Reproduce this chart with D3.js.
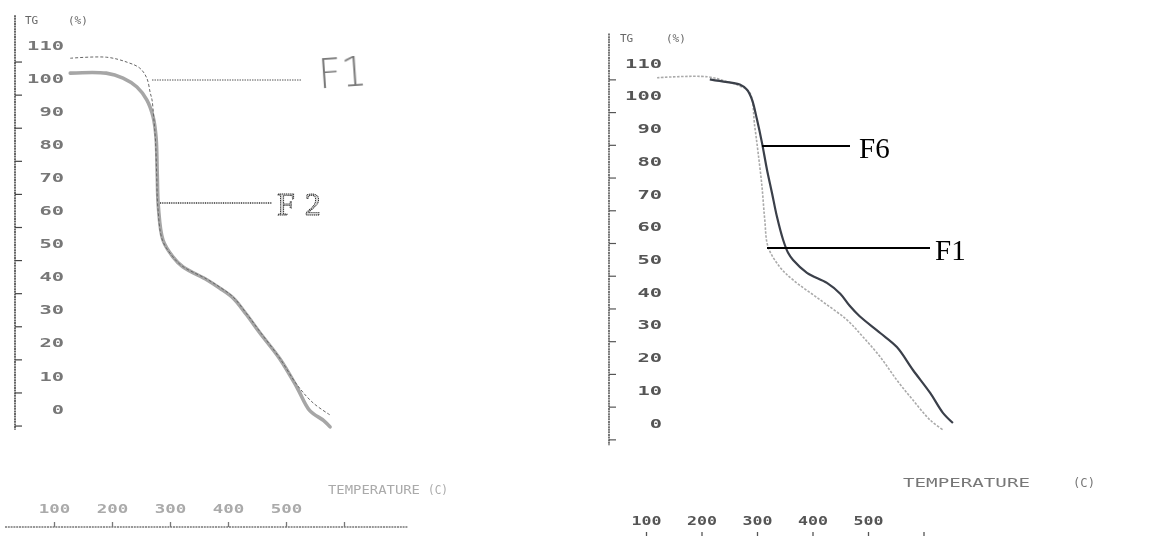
<!DOCTYPE html>
<html>
<head>
<meta charset="utf-8">
<script src="https://cdn.jsdelivr.net/npm/d3@7"></script>
<style>
  html, body { margin: 0; padding: 0; background: #fff; }
  svg { display: block; }
</style>
</head>
<body>
<svg id="chart" width="1157" height="536"></svg>
<script>
// Temperature axis ticks (°C) and TG (%) axis labels / minor ticks
const tempTicks = [100, 200, 300, 400, 500, 600];
const tgLabels = [0, 10, 20, 30, 40, 50, 60, 70, 80, 90, 100, 110];
const tgMinorTicks = [-5, 5, 15, 25, 35, 45, 55, 65, 75, 85, 95, 105];

// Left thermogram: [temperature °C, TG %]
const leftF1 = [
  [128, 106], [191, 106.3], [226, 104.8], [248, 103], [260, 100], [266, 95.5],
  [269, 93.4], [272, 88], [275, 81], [277, 71], [279, 61], [287, 51],
  [304, 46.2], [321, 43.2], [363, 39.3], [386, 36.8], [409, 33.8], [432, 28.8],
  [454, 23.6], [489, 15.4], [519, 7.3], [547, 1.8], [576, -1.8]
];
const leftF2 = [
  [128, 101.5], [190, 101.5], [219, 100], [243, 97.3], [260, 93.4], [271, 88.2],
  [276, 82], [278, 71], [280, 61], [288, 51], [305, 46], [322, 43],
  [364, 39], [386, 36.5], [409, 33.5], [432, 28.5], [455, 23], [490, 15],
  [519, 6.5], [541, -0.5], [565, -3.5], [576, -5.4]
];

// Right thermogram: [temperature °C, TG %]
const rightF1 = [
  [120, 105.5], [210, 105.8], [246, 104.3], [269, 103], [287, 100.9], [296, 90.5],
  [302, 82.6], [309, 72.2], [314, 62.1], [320, 53.8], [341, 47.7], [365, 43.7],
  [414, 37.6], [462, 31.5], [491, 26.3], [522, 20.2], [552, 13.1], [581, 7],
  [612, 0.9], [635, -2.1]
];
const rightF6 = [
  [215, 105], [228, 104.6], [269, 103.4], [282, 101.8], [291, 98.8], [300, 92.7],
  [309, 85.6], [318, 77.4], [327, 70.3], [336, 63], [347, 56], [356, 52],
  [365, 49.8], [390, 45.9], [426, 42.8], [450, 39.5], [467, 35.8], [485, 32.6],
  [522, 27.5], [552, 23.2], [581, 16.2], [612, 9.2], [635, 3.1], [653, 0]
];

const svg = d3.select("#chart");
const MONO = "'DejaVu Sans Mono', 'Liberation Mono', monospace";
const SERIF = "'Liberation Serif', 'Times New Roman', serif";

// soft scan look for the printed parts
const defs = svg.append("defs");
defs.append("filter").attr("id", "soft")
  .append("feGaussianBlur").attr("stdDeviation", 0.55);

const line = (x, y) => d3.line()
  .x(d => x(d[0])).y(d => y(d[1]))
  .curve(d3.curveCatmullRom.alpha(0.5));

// wide printer-style digits
function printerText(sel, charW, color) {
  sel.attr("font-family", MONO).attr("font-size", 13).attr("font-weight", "bold")
    .attr("fill", color)
    .attr("lengthAdjust", "spacingAndGlyphs")
    .attr("textLength", function () {
      const n = this.textContent.length;
      return n ? n * charW : null;
    });
}

function panel(cfg) {
  const x = d3.scaleLinear().domain([100, 500]).range(cfg.xRange);
  const y = d3.scaleLinear().domain([0, 110]).range(cfg.yRange);
  const g = svg.append("g").attr("filter", "url(#soft)");

  // vertical TG axis line
  g.append("line")
    .attr("x1", cfg.axisX).attr("x2", cfg.axisX)
    .attr("y1", y(cfg.axisTop)).attr("y2", y(cfg.axisBottom))
    .attr("stroke", cfg.axisColor).attr("stroke-width", 1.6)
    .attr("stroke-dasharray", "2,0.6");

  // minor ticks on the TG axis
  const minor = g.append("g")
    .attr("transform", `translate(${cfg.axisX},0)`)
    .call(d3.axisRight(y).tickValues(tgMinorTicks).tickSize(7).tickFormat(""));
  minor.select(".domain").remove();
  minor.selectAll("line").attr("stroke", cfg.axisColor).attr("stroke-width", 1.2);

  // TG labels
  const lab = g.append("g")
    .attr("transform", `translate(${cfg.labelX},0)`)
    .call(d3.axisLeft(y).tickValues(tgLabels).tickSize(0).tickPadding(0));
  lab.select(".domain").remove();
  lab.selectAll("text").call(printerText, 12.3, cfg.labelColor);

  // TG (%) title
  g.append("text").attr("x", cfg.tgX).attr("y", cfg.tgY)
    .attr("font-family", MONO).attr("font-size", 11).attr("fill", "#666")
    .text("TG");
  g.append("text").attr("x", cfg.pctX).attr("y", cfg.tgY)
    .attr("font-family", MONO).attr("font-size", 11).attr("fill", "#666")
    .text("(%)");

  // temperature axis
  const bx = g.append("g")
    .attr("transform", `translate(0,${cfg.baseY})`)
    .call(d3.axisTop(x).tickValues(tempTicks).tickSize(5).tickPadding(cfg.tickPad)
      .tickFormat(d => d === 600 ? "" : d));
  bx.select(".domain").remove();
  bx.selectAll("line").attr("stroke", cfg.baseColor).attr("stroke-width", 1.3);
  bx.selectAll("text").call(printerText, cfg.xCharW, cfg.xLabelColor);
  g.append("line")
    .attr("x1", cfg.baseX[0]).attr("x2", cfg.baseX[1])
    .attr("y1", cfg.baseY).attr("y2", cfg.baseY)
    .attr("stroke", cfg.baseColor).attr("stroke-width", 1.6)
    .attr("stroke-dasharray", "2,0.8");

  // temperature title
  g.append("text").attr("x", cfg.tempX).attr("y", cfg.tempY)
    .attr("font-family", MONO).attr("font-size", 12).attr("fill", cfg.tempColor)
    .attr("textLength", cfg.tempLen[0]).attr("lengthAdjust", "spacingAndGlyphs")
    .text("TEMPERATURE");
  g.append("text").attr("x", cfg.cX).attr("y", cfg.tempY)
    .attr("font-family", MONO).attr("font-size", 12).attr("fill", cfg.tempColor)
    .attr("textLength", cfg.tempLen[1]).attr("lengthAdjust", "spacingAndGlyphs")
    .text("(C)");

  return { x, y, g };
}

// ---------------- left panel: F1 / F2 ----------------
const L = panel({
  xRange: [54, 286], yRange: [409, 45],
  axisX: 15, axisTop: 119, axisBottom: -6.3, axisColor: "#444",
  labelX: 64, labelColor: "#777",
  tgX: 25, pctX: 68, tgY: 24,
  baseY: 527, tickPad: 9, baseX: [5, 408], baseColor: "#777",
  xLabelColor: "#aaa", xCharW: 10.5,
  tempX: 328, tempY: 494, tempLen: [92, 20], cX: 428, tempColor: "#aaa"
});

L.g.append("path").datum(leftF2)
  .attr("d", line(L.x, L.y))
  .attr("fill", "none").attr("stroke", "#a6a6a6").attr("stroke-width", 3.6)
  .attr("stroke-linecap", "round");
L.g.append("path").datum(leftF1)
  .attr("d", line(L.x, L.y))
  .attr("fill", "none").attr("stroke", "#666").attr("stroke-width", 1)
  .attr("stroke-dasharray", "3,2");

// F1 / F2 pointers
svg.append("line").attr("x1", 152).attr("x2", 302).attr("y1", 80).attr("y2", 80)
  .attr("stroke", "#555").attr("stroke-width", 1).attr("stroke-dasharray", "1.5,1");
svg.append("line").attr("x1", 160).attr("x2", 272).attr("y1", 203).attr("y2", 203)
  .attr("stroke", "#333").attr("stroke-width", 1.4).attr("stroke-dasharray", "1,0.8");

svg.append("text").attr("x", 318).attr("y", 87)
  .attr("font-family", "'DejaVu Sans', sans-serif").attr("font-weight", 200)
  .attr("font-size", 40).attr("fill", "#777")
  .attr("transform", "rotate(-4 340 70)")
  .text("F1");
svg.append("text").attr("x", 277).attr("y", 215)
  .attr("font-family", SERIF).attr("font-size", 32)
  .attr("letter-spacing", 10)
  .attr("fill", "#d8d8d8").attr("stroke", "#222").attr("stroke-width", 0.9)
  .attr("stroke-dasharray", "1.2,0.7")
  .text("F2");

// ---------------- right panel: F6 / F1 ----------------
const R = panel({
  xRange: [646, 868], yRange: [423, 63],
  axisX: 609, axisTop: 119, axisBottom: -6.8, axisColor: "#555",
  labelX: 662, labelColor: "#555",
  tgX: 620, pctX: 666, tgY: 42,
  baseY: 537, tickPad: 7, baseX: [600, 980], baseColor: "#555",
  xLabelColor: "#555", xCharW: 10,
  tempX: 903, tempY: 487, tempLen: [127, 22], cX: 1073, tempColor: "#777"
});

R.g.append("path").datum(rightF1)
  .attr("d", line(R.x, R.y))
  .attr("fill", "none").attr("stroke", "#aaa").attr("stroke-width", 1.6)
  .attr("stroke-dasharray", "2.5,1.5");
R.g.append("path").datum(rightF6)
  .attr("d", line(R.x, R.y))
  .attr("fill", "none").attr("stroke", "#3a3f4a").attr("stroke-width", 2.2);

// F6 / F1 pointers and labels
svg.append("line").attr("x1", 762).attr("x2", 850).attr("y1", 146).attr("y2", 146)
  .attr("stroke", "#000").attr("stroke-width", 2);
svg.append("line").attr("x1", 767).attr("x2", 930).attr("y1", 248).attr("y2", 248)
  .attr("stroke", "#000").attr("stroke-width", 2);
svg.append("text").attr("x", 859).attr("y", 158)
  .attr("font-family", SERIF).attr("font-size", 29).attr("fill", "#000")
  .text("F6");
svg.append("text").attr("x", 935).attr("y", 260)
  .attr("font-family", SERIF).attr("font-size", 29).attr("fill", "#000")
  .text("F1");
</script>
</body>
</html>
